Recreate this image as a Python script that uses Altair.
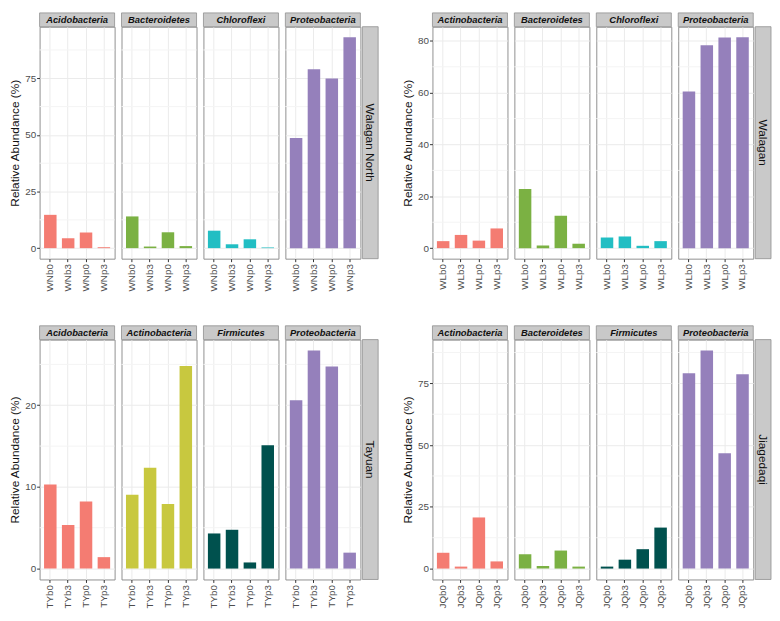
import altair as alt
import pandas as pd

FONT = "Liberation Sans"

# ---------------- data ----------------
WN_SITE = "Walagan North"
WN_SAMPLES = ["WNb0", "WNb3", "WNp0", "WNp3"]
WN_PHYLA = ["Acidobacteria", "Bacteroidetes", "Chloroflexi", "Proteobacteria"]
WN_ACIDO = [14.7, 4.4, 6.9, 0.4]
WN_BACT = [14.0, 0.7, 7.0, 0.9]
WN_CHLORO = [7.7, 1.7, 3.9, 0.3]
WN_PROTEO = [48.6, 79.0, 74.9, 93.1]
WN_COLORS = ["#F47C72", "#7BB143", "#22BEC3", "#9580BB"]
WN_MAJOR = [0, 25, 50, 75]
WN_MINOR = [12.5, 37.5, 62.5, 87.5]

WL_SITE = "Walagan"
WL_SAMPLES = ["WLb0", "WLb3", "WLp0", "WLp3"]
WL_PHYLA = ["Actinobacteria", "Bacteroidetes", "Chloroflexi", "Proteobacteria"]
WL_ACTINO = [2.7, 5.1, 2.9, 7.6]
WL_BACT = [22.8, 1.0, 12.5, 1.7]
WL_CHLORO = [4.1, 4.5, 0.9, 2.7]
WL_PROTEO = [60.5, 78.3, 81.3, 81.4]
WL_COLORS = ["#F47C72", "#7BB143", "#22BEC3", "#9580BB"]
WL_MAJOR = [0, 20, 40, 60, 80]
WL_MINOR = [10, 30, 50, 70]

TY_SITE = "Tayuan"
TY_SAMPLES = ["TYb0", "TYb3", "TYp0", "TYp3"]
TY_PHYLA = ["Acidobacteria", "Actinobacteria", "Firmicutes", "Proteobacteria"]
TY_ACIDO = [10.3, 5.35, 8.2, 1.4]
TY_ACTINO = [9.05, 12.35, 7.9, 24.8]
TY_FIRM = [4.3, 4.75, 0.75, 15.1]
TY_PROTEO = [20.6, 26.7, 24.75, 1.95]
TY_COLORS = ["#F47C72", "#C8C83F", "#00514E", "#9580BB"]
TY_MAJOR = [0, 10, 20]
TY_MINOR = [5, 15, 25]

JQ_SITE = "Jiagedaqi"
JQ_SAMPLES = ["JQb0", "JQb3", "JQp0", "JQp3"]
JQ_PHYLA = ["Actinobacteria", "Bacteroidetes", "Firmicutes", "Proteobacteria"]
JQ_ACTINO = [6.4, 0.8, 20.7, 2.9]
JQ_BACT = [5.85, 1.05, 7.3, 0.8]
JQ_FIRM = [0.8, 3.6, 7.85, 16.6]
JQ_PROTEO = [79.1, 88.3, 46.7, 78.7]
JQ_COLORS = ["#F47C72", "#7BB143", "#00514E", "#9580BB"]
JQ_MAJOR = [0, 25, 50, 75]
JQ_MINOR = [12.5, 37.5, 62.5, 87.5]

# ---------------- layout ----------------
W = 76
STRIP = 14
ROWSTRIP = 16
GRID = "#EBEBEB"
MINOR_GRID = "#F4F4F4"
BORDER = "#8F8F8F"
STRIP_FILL = "#C9C9C9"
TEXT = "#4D4D4D"


def quadrant(site, samples, phyla, series, colors, major, minor, H):
    vmax = max(max(s) for s in series)
    yscale = alt.Scale(domain=[-0.05 * vmax, 1.05 * vmax], nice=False, zero=False)
    xscale = alt.Scale(domain=samples, paddingInner=0.3, paddingOuter=0.25)
    cols = []
    n = len(phyla)
    for i, (ph, vals, col) in enumerate(zip(phyla, series, colors)):
        first = i == 0
        last = i == n - 1
        if first:
            yaxis = alt.Axis(values=major, title="Relative Abundance (%)", grid=True,
                             gridColor=GRID, gridWidth=1, domain=False, tickSize=3,
                             tickColor="#333333", labelColor=TEXT, labelFontSize=10,
                             labelPadding=1, titleFontSize=12, titleFontWeight="normal",
                             titleColor="#111111", titlePadding=3, labelFont=FONT,
                             titleFont=FONT)
        else:
            yaxis = alt.Axis(values=major, title=None, labels=False, ticks=False,
                             domain=False, grid=True, gridColor=GRID, gridWidth=1)
        xaxis = alt.Axis(title=None, labelAngle=270, labelFontSize=10, labelColor=TEXT,
                         labelFont=FONT, tickSize=3, tickColor="#333333", domain=False,
                         grid=True, gridColor=GRID, gridWidth=1, labelPadding=2)
        df = pd.DataFrame({"sample": samples, "value": vals})
        lab = pd.DataFrame({"label": [ph]})
        minor_layer = alt.Chart(pd.DataFrame({"v": minor})).mark_rule(
            color=MINOR_GRID, strokeWidth=1
        ).encode(y=alt.Y("v:Q", scale=yscale, axis=yaxis))
        bars = alt.Chart(df).mark_bar(color=col).encode(
            x=alt.X("sample:N", sort=samples, scale=xscale, axis=xaxis),
            y=alt.Y("value:Q", scale=yscale, axis=yaxis),
            y2=alt.datum(0),
        )
        srect = alt.Chart(lab).mark_rect(fill=STRIP_FILL, stroke=BORDER, strokeWidth=0.8).encode(
            x=alt.value(0), x2=alt.value(W), y=alt.value(-STRIP), y2=alt.value(0)
        )
        stext = alt.Chart(lab).mark_text(font=FONT, fontSize=9.5, fontWeight="bold",
                                         fontStyle="italic", color="#111111",
                                         align="center", baseline="middle").encode(
            x=alt.value(W / 2), y=alt.value(-STRIP / 2 + 0.5), text="label:N"
        )
        layers = [minor_layer, bars, srect, stext]
        if last:
            rl = pd.DataFrame({"label": [site]})
            rrect = alt.Chart(rl).mark_rect(fill=STRIP_FILL, stroke=BORDER, strokeWidth=0.8).encode(
                x=alt.value(W + 2), x2=alt.value(W + 2 + ROWSTRIP), y=alt.value(0), y2=alt.value(H)
            )
            rtext = alt.Chart(rl).mark_text(font=FONT, fontSize=12, color="#111111", angle=90,
                                            align="center", baseline="middle").encode(
                x=alt.value(W + 2 + ROWSTRIP / 2), y=alt.value(H / 2), text="label:N"
            )
            layers += [rrect, rtext]
        cols.append(alt.layer(*layers).properties(width=W, height=H))
    return alt.hconcat(*cols, spacing=5)


q1 = quadrant(WN_SITE, WN_SAMPLES, WN_PHYLA, [WN_ACIDO, WN_BACT, WN_CHLORO, WN_PROTEO],
              WN_COLORS, WN_MAJOR, WN_MINOR, 235)
q2 = quadrant(WL_SITE, WL_SAMPLES, WL_PHYLA, [WL_ACTINO, WL_BACT, WL_CHLORO, WL_PROTEO],
              WL_COLORS, WL_MAJOR, WL_MINOR, 235)
q3 = quadrant(TY_SITE, TY_SAMPLES, TY_PHYLA, [TY_ACIDO, TY_ACTINO, TY_FIRM, TY_PROTEO],
              TY_COLORS, TY_MAJOR, TY_MINOR, 243)
q4 = quadrant(JQ_SITE, JQ_SAMPLES, JQ_PHYLA, [JQ_ACTINO, JQ_BACT, JQ_FIRM, JQ_PROTEO],
              JQ_COLORS, JQ_MAJOR, JQ_MINOR, 243)

chart = alt.vconcat(
    alt.hconcat(q1, q2, spacing=22),
    alt.hconcat(q3, q4, spacing=22),
    spacing=33,
).properties(padding=0, background="white").configure_view(
    stroke=BORDER, strokeWidth=1
).configure_concat(spacing=5)

chart.save("out.html", embed_options={"renderer": "svg", "actions": False})
